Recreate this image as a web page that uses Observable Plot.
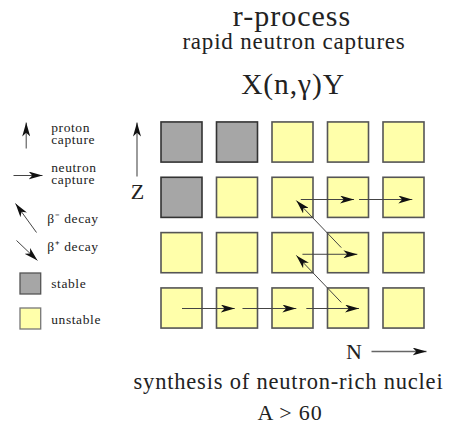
<!DOCTYPE html>
<html><head><meta charset="utf-8">
<script src="https://cdn.jsdelivr.net/npm/d3@7"></script>
<script src="https://cdn.jsdelivr.net/npm/@observablehq/plot@0.6"></script>
<style>html,body{margin:0;padding:0;background:#fff;} svg{display:block}</style>
</head><body><div id="chart"></div>
<script>
// ---- data ----
const titleLines = ["r-process", "rapid neutron captures", "X(n,γ)Y"];
const footerLines = ["synthesis of neutron-rich nuclei", "A > 60"];
const axisLabels = ["Z", "N"];
const neutronNumbers = [1, 2, 3, 4, 5];
const protonNumbers = [1, 2, 3, 4];
const stableNuclei = [[1, 4], [2, 4], [1, 3]]; // [N, Z]
// [N1, Z1, N2, Z2]
const neutronCaptures = [
  [1.00, 1.00, 1.95, 1.00],
  [2.09, 1.00, 3.06, 1.00],
  [3.24, 1.00, 4.19, 1.00],
  [3.17, 1.98, 4.16, 1.98],
  [3.14, 2.97, 4.10, 2.97],
  [4.19, 2.97, 5.15, 2.97]
];
const betaDecays = [
  [3.87, 1.11, 3.06, 1.96],
  [3.87, 2.10, 3.06, 2.95]
];
const legendLabels = ["proton\ncapture", "neutron\ncapture", "β⁻ decay", "β⁺ decay", "stable", "unstable"];

// ---- layout (pixel positions -> data units) ----
const W = 450, H = 425;
const toN = px => 1 + (px - 181.5) / 55.5;
const toZ = py => 1 + (308 - py) / 55.33;

const cells = d3.cross(neutronNumbers, protonNumbers).map(([n, z]) => ({
  n, z, stable: stableNuclei.some(([sn, sz]) => sn === n && sz === z)
}));
const flows = [...neutronCaptures, ...betaDecays].map(([n1, z1, n2, z2]) => ({n1, z1, n2, z2}));

const legendArrowsPx = [[25.7, 148, 25.7, 122], [13, 175, 42, 175], [36, 232, 15, 203], [16, 240, 37, 260]];
const legendArrows = legendArrowsPx.map(([a, b, c, d]) => ({n1: toN(a), z1: toZ(b), n2: toN(c), z2: toZ(d)}));
const legendTextPx = [[50.7, 143], [50.7, 183], [46.7, 222], [46.7, 250], [50.7, 287], [50.7, 323]];
const legendText = legendLabels.map((label, i) => ({label, n: toN(legendTextPx[i][0]), z: toZ(legendTextPx[i][1])}));
const legendSwatches = [
  {stable: true, n1: toN(20), n2: toN(40.7), z1: toZ(294), z2: toZ(273)},
  {stable: false, n1: toN(20), n2: toN(40.7), z1: toZ(329), z2: toZ(308)}
];
const axisArrows = [
  {n1: toN(136.5), z1: toZ(176), n2: toN(136.5), z2: toZ(122)},
  {n1: toN(371), z1: toZ(351), n2: toN(426), z2: toZ(351)}
];
const axisText = [
  {label: axisLabels[0], n: toN(137), z: toZ(198)},
  {label: axisLabels[1], n: toN(353.5), z: toZ(358)}
];
const titlePos = [[291.5, 25, 30], [293.5, 48, 23], [292.5, 93, 29.5]];
const titles = titleLines.map((label, i) => ({label, n: toN(titlePos[i][0]), z: toZ(titlePos[i][1]), size: titlePos[i][2]}));
const footerPos = [[288, 388, 22.5], [289.5, 419, 22]];
const footers = footerLines.map((label, i) => ({label, n: toN(footerPos[i][0]), z: toZ(footerPos[i][1]), size: footerPos[i][2]}));

const FONT = "'Liberation Serif', 'Times New Roman', serif";
const YELLOW = "#ffffaa", GRAY = "#a6a6a6";

const svg = Plot.plot({
  width: W, height: H,
  margin: 0,
  x: {domain: [toN(0), toN(W)], axis: null},
  y: {domain: [toZ(H), toZ(0)], axis: null},
  marks: [
    Plot.rect(cells, {
      x1: d => d.n - 0.5, x2: d => d.n + 0.5, y1: d => d.z - 0.5, y2: d => d.z + 0.5,
      insetLeft: 7.25, insetRight: 7.25, insetTop: 7.6, insetBottom: 7.6,
      fill: d => d.stable ? GRAY : YELLOW,
      stroke: d => d.stable ? "#333" : "#555",
      strokeWidth: 1.6
    }),
    Plot.rect(legendSwatches, {
      x1: "n1", x2: "n2", y1: "z1", y2: "z2",
      fill: d => d.stable ? GRAY : YELLOW,
      stroke: d => d.stable ? "#555" : "#777",
      strokeWidth: 1.3
    }),
    Plot.link(flows, {x1: "n1", y1: "z1", x2: "n2", y2: "z2", stroke: "#444", strokeWidth: 1, ariaDescription: "arrowlink"}),
    Plot.link(legendArrows, {x1: "n1", y1: "z1", x2: "n2", y2: "z2", stroke: "#444", strokeWidth: 1, ariaDescription: "arrowlink"}),
    Plot.link(axisArrows, {x1: "n1", y1: "z1", x2: "n2", y2: "z2", stroke: "#666", strokeWidth: 1.3, ariaDescription: "arrowlink"}),
    Plot.text(legendText, {x: "n", y: "z", text: "label", textAnchor: "start", lineAnchor: "bottom",
      lineHeight: 0.83, fontSize: 13.5, fontFamily: FONT, fill: "#222", ariaDescription: "legendtext"}),
    Plot.text(axisText, {x: "n", y: "z", text: "label", textAnchor: "middle", lineAnchor: "bottom",
      fontSize: 22, fontFamily: FONT, fill: "#222"}),
    Plot.text(titles, {x: "n", y: "z", text: "label", textAnchor: "middle", lineAnchor: "bottom",
      fontSize: d => d.size, fontFamily: FONT, fill: "#222", ariaDescription: "titletext"}),
    Plot.text(footers, {x: "n", y: "z", text: "label", textAnchor: "middle", lineAnchor: "bottom",
      fontSize: d => d.size, fontFamily: FONT, fill: "#222", ariaDescription: "footertext"})
  ]
});

const s = d3.select(svg);
const marker = s.append("defs").append("marker")
  .attr("id", "ahead").attr("viewBox", "0 0 14 8").attr("refX", 14).attr("refY", 4)
  .attr("markerWidth", 14).attr("markerHeight", 8).attr("markerUnits", "userSpaceOnUse")
  .attr("orient", "auto");
marker.append("path").attr("d", "M0,0L14,4L0,8L3.8,4Z").attr("fill", "#111");
s.selectAll('g[aria-description="arrowlink"] path').attr("marker-end", "url(#ahead)");
s.selectAll('g[aria-description="titletext"] text').each(function(d, i) {
  d3.select(this).style("letter-spacing", ["1px", "0.8px", "0.9px"][i] || "0.8px");
});
s.selectAll('g[aria-description="footertext"] text').style("letter-spacing", "0.8px");
s.selectAll('g[aria-description="legendtext"] text').style("letter-spacing", "0.6px");

document.getElementById("chart").appendChild(svg);
</script>
</body></html>
